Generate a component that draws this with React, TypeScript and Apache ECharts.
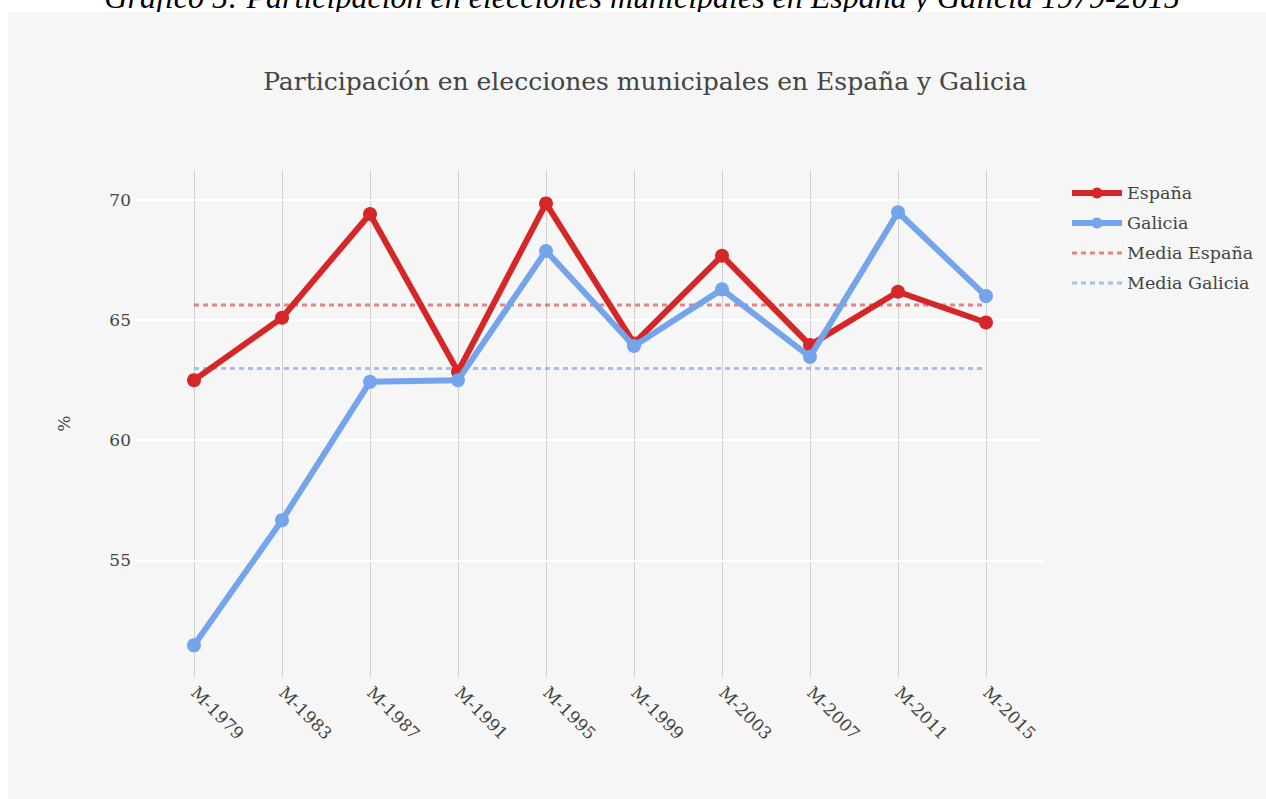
import React, { useEffect, useRef } from "react";
import * as echarts from "echarts";

const categories = ["M-1979", "M-1983", "M-1987", "M-1991", "M-1995", "M-1999", "M-2003", "M-2007", "M-2011", "M-2015"];
const espana = [62.5, 65.1, 69.42, 62.85, 69.86, 64.03, 67.68, 63.96, 66.18, 64.9];
const galicia = [51.46, 56.67, 62.43, 62.5, 67.88, 63.92, 66.28, 63.47, 69.49, 66.0];
const mediaEspana = 65.63;
const mediaGalicia = 62.99;
const seriesNames = ["España", "Galicia", "Media España", "Media Galicia"];
const caption = "Gráfico 5: Participación en elecciones municipales en España y Galicia 1979-2015";
const chartTitle = "Participación en elecciones municipales en España y Galicia";
const yName = "%";
const yMin = 50.12;
const yMax = 71.25;

const OFF = 30;
const FONT = "'DejaVu Serif', serif";
const RED = "#d62728";
const BLUE = "#74a4ec";
const TXT = "#444444";

export default function App() {
  const ref = useRef<HTMLDivElement>(null);
  useEffect(() => {
    if (!ref.current) return;
    const chart = echarts.init(ref.current, null, { renderer: "svg" });
    const plotTop = 170 + OFF;
    const plotBottom = 829 - (677.5 + OFF);
    chart.setOption({
      animation: false,
      backgroundColor: "#ffffff",
      graphic: [
        {
          type: "text", x: 642, y: 13 + OFF, silent: true, z: -20,
          style: { text: caption, fill: "#000", font: "italic 32px 'Liberation Serif', serif", textAlign: "center", textVerticalAlign: "bottom" },
        },
        { type: "rect", z: -10, shape: { x: 8, y: 12 + OFF, width: 1258, height: 829 - 12 - OFF }, style: { fill: "#f5f6f5" }, silent: true },
        {
          type: "text", x: 645, y: 81 + OFF, silent: true,
          style: { text: chartTitle, fill: TXT, font: `25px ${FONT}`, textAlign: "center", textVerticalAlign: "middle" },
        },
      ],
      legend: {
        orient: "vertical",
        left: 1064,
        top: 179 + OFF,
        itemWidth: 50,
        itemHeight: 14,
        itemGap: 12,
        data: [
          { name: seriesNames[0], lineStyle: { width: 6 } },
          { name: seriesNames[1], lineStyle: { width: 6 } },
          { name: seriesNames[2], itemStyle: { opacity: 0 }, lineStyle: { width: 3, type: [5, 4] } },
          { name: seriesNames[3], itemStyle: { opacity: 0 }, lineStyle: { width: 3, type: [5, 4] } },
        ],
        textStyle: { fontFamily: FONT, fontSize: 17.5, color: TXT },
      },
      grid: [
        { left: 136, right: 1266 - 1045, top: plotTop, bottom: plotBottom, containLabel: false },
        { left: 194, right: 1266 - 986, top: plotTop, bottom: plotBottom, containLabel: false },
      ],
      xAxis: [
        { gridIndex: 0, type: "category", data: categories, show: false },
        {
          gridIndex: 1, type: "category", data: categories, boundaryGap: false, z: 0,
          axisLine: { show: false }, axisTick: { show: false },
          splitLine: { show: true, lineStyle: { color: "#cfcfcf", width: 1 } },
          axisLabel: { rotate: -45, margin: 12, fontFamily: FONT, fontSize: 17, color: TXT, interval: 0 },
        },
      ],
      yAxis: [
        {
          gridIndex: 0, type: "value", min: yMin, max: yMax, z: 1,
          name: yName, nameLocation: "middle", nameGap: 64,
          nameTextStyle: { fontFamily: FONT, fontSize: 17, color: TXT },
          axisLine: { show: false }, axisTick: { show: false },
          splitLine: { show: true, showMinLine: false, showMaxLine: false, lineStyle: { color: "#ffffff", width: 2 } },
          axisLabel: { showMinLabel: false, showMaxLabel: false, margin: 5, fontFamily: FONT, fontSize: 17, color: TXT },
        },
        { gridIndex: 1, type: "value", min: yMin, max: yMax, show: false, splitLine: { show: false } },
      ],
      series: [
        {
          name: "Media España", type: "line", xAxisIndex: 1, yAxisIndex: 1, z: 3,
          data: categories.map(() => mediaEspana), symbol: "none",
          lineStyle: { color: RED, width: 3, type: [5, 4], opacity: 0.55 },
          itemStyle: { color: RED },
        },
        {
          name: "Media Galicia", type: "line", xAxisIndex: 1, yAxisIndex: 1, z: 3,
          data: categories.map(() => mediaGalicia), symbol: "none",
          lineStyle: { color: BLUE, width: 3, type: [5, 4], opacity: 0.65 },
          itemStyle: { color: BLUE },
        },
        {
          name: "España", type: "line", xAxisIndex: 1, yAxisIndex: 1, z: 4,
          data: espana, symbol: "circle", symbolSize: 14,
          lineStyle: { color: RED, width: 6 }, itemStyle: { color: RED },
        },
        {
          name: "Galicia", type: "line", xAxisIndex: 1, yAxisIndex: 1, z: 5,
          data: galicia, symbol: "circle", symbolSize: 14,
          lineStyle: { color: BLUE, width: 6 }, itemStyle: { color: BLUE },
        },
      ],
    });
    return () => chart.dispose();
  }, []);
  return <div ref={ref} style={{ position: "absolute", left: 0, top: -OFF, width: 1266, height: 829 }} />;
}
